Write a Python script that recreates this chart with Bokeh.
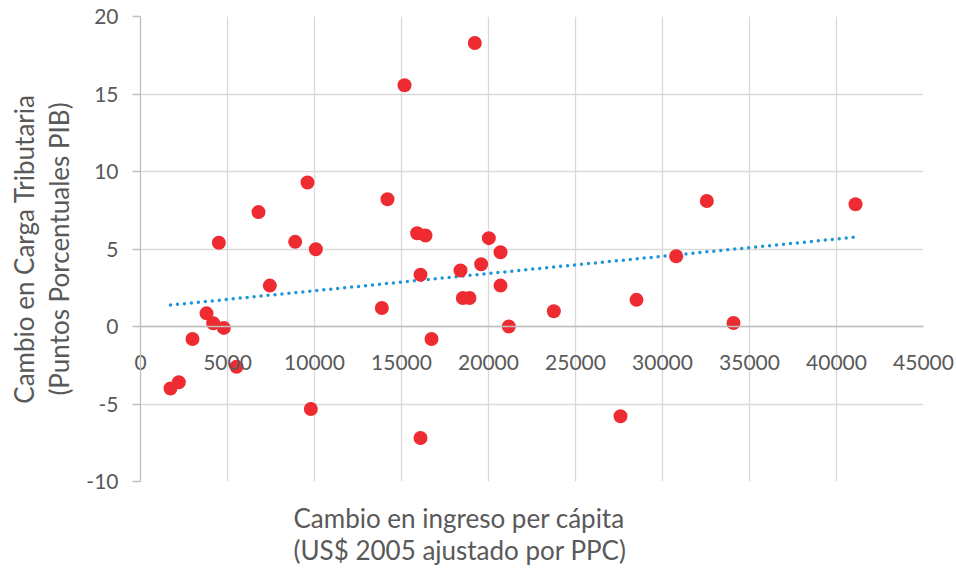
import numpy as np
from bokeh.plotting import figure
from bokeh.models import (LinearAxis, SingleIntervalTicker, Grid,
                          Span, Title, PrintfTickFormatter)
from bokeh.embed import file_html
from bokeh.resources import INLINE

# Change in per-capita income (US$ 2005, PPP) vs change in tax burden (GDP points)
ingreso = [1724, 2203, 2989, 3793, 4178, 4789, 4502, 5517, 6782, 7433,
           8889, 9598, 9789, 10077, 13870, 14195, 15172, 15900, 16092, 16092,
           16379, 16724, 18391, 18525, 18908, 19213, 19578, 20019, 20690, 20690,
           21167, 23755, 27586, 28506, 30787, 32547, 34080, 41092]
carga = [-4.0, -3.6, -0.81, 0.85, 0.21, -0.09, 5.40, -2.60, 7.38, 2.64,
         5.46, 9.29, -5.32, 4.98, 1.19, 8.21, 15.56, 6.02, 3.34, -7.19,
         5.87, -0.81, 3.61, 1.84, 1.84, 18.29, 4.02, 5.70, 4.79, 2.64,
         0.0, 0.98, -5.79, 1.72, 4.53, 8.10, 0.23, 7.89]

x_ticks_interval = 5000
y_ticks_interval = 5

FONT = "Lato"
TEXT = "#595959"
GRID = "#D9D9D9"
AXIS = "#BFBFBF"

p = figure(width=956, height=583, x_range=(0, 45000), y_range=(-10, 20),
           output_backend="svg", toolbar_location=None,
           x_axis_type=None, y_axis_type=None,
           min_border_left=140, min_border_right=33,
           min_border_top=16, min_border_bottom=97)
p.outline_line_color = None
p.background_fill_color = "white"
p.border_fill_color = "white"

xt = SingleIntervalTicker(interval=x_ticks_interval)
yt = SingleIntervalTicker(interval=y_ticks_interval)

p.add_layout(Grid(dimension=0, ticker=xt, grid_line_color=GRID, grid_line_width=1.3))
p.add_layout(Grid(dimension=1, ticker=yt, grid_line_color=GRID, grid_line_width=1.3))

# horizontal axis line through y = 0
p.add_layout(Span(location=0, dimension="width", line_color=AXIS, line_width=1.3))

# x tick labels hang just under the y = 0 line
xaxis = LinearAxis(ticker=xt, formatter=PrintfTickFormatter(format="%d"))
xaxis.axis_line_color = None
xaxis.major_tick_line_color = None
xaxis.minor_tick_line_color = None
xaxis.major_tick_out = 0
xaxis.major_tick_in = 0
xaxis.major_label_standoff = -357
xaxis.major_label_text_font = FONT
xaxis.major_label_text_font_size = "21px"
xaxis.major_label_text_color = TEXT
p.add_layout(xaxis, "above")

# axis title under the plot area
p.add_layout(Title(text="Cambio en ingreso per cápita\n(US$ 2005 ajustado por PPC)",
                   align="left", offset=153, standoff=36,
                   text_font=FONT, text_font_size="26px",
                   text_font_style="normal", text_color=TEXT,
                   text_line_height=1.0), "below")

yaxis = LinearAxis(ticker=yt, formatter=PrintfTickFormatter(format="%d"))
yaxis.axis_line_color = AXIS
yaxis.axis_line_width = 1.3
yaxis.major_tick_line_color = AXIS
yaxis.major_tick_line_width = 1.3
yaxis.minor_tick_line_color = None
yaxis.major_tick_out = 8
yaxis.major_tick_in = 0
yaxis.major_label_standoff = 14
yaxis.major_label_text_font = FONT
yaxis.major_label_text_font_size = "21px"
yaxis.major_label_text_color = TEXT
yaxis.axis_label = "Cambio en Carga Tributaria\n(Puntos Porcentuales PIB)"
yaxis.axis_label_text_font = FONT
yaxis.axis_label_text_font_size = "26px"
yaxis.axis_label_text_font_style = "normal"
yaxis.axis_label_text_color = TEXT
yaxis.axis_label_text_line_height = 1.1
yaxis.axis_label_standoff = 8
p.add_layout(yaxis, "left")

# least-squares trend line across the data span
slope, intercept = np.polyfit(ingreso, carga, 1)
tx = [min(ingreso), max(ingreso)]
ty = [intercept + slope * v for v in tx]
p.line(tx, ty, line_color="#1E96D8", line_width=3.5, line_dash="0 7",
       line_cap="round")

p.scatter(ingreso, carga, size=14, fill_color="#EE2B30", line_color="#EE2B30",
          line_width=0)

open("out.html", "w").write(file_html(p, INLINE))
